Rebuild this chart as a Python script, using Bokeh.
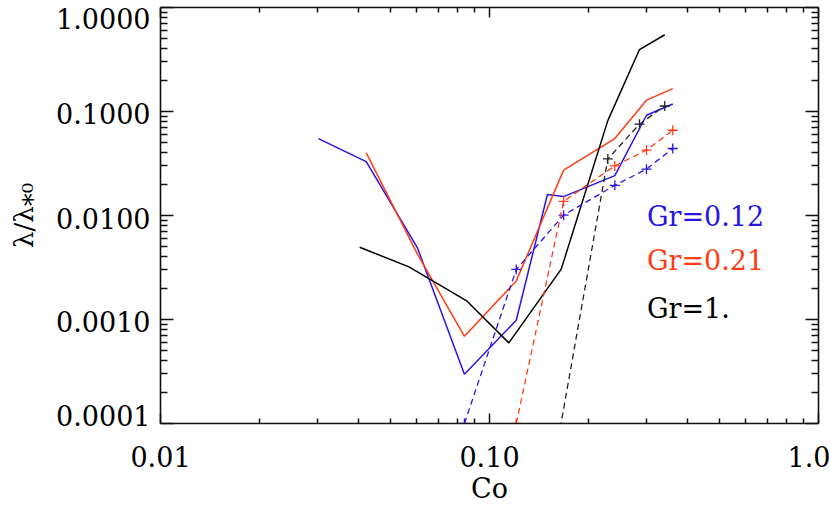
from bokeh.plotting import figure
from bokeh.models import LogAxis, FixedTicker, Label, Range1d, CustomJSTickFormatter
from bokeh.embed import file_html
from bokeh.resources import INLINE

# ---- data ----
co_blue = [0.0302, 0.0422, 0.0604, 0.0839, 0.1206, 0.150, 0.168, 0.2404, 0.300, 0.3606]
lam_blue = [0.0549, 0.0330, 0.00488, 0.000298, 0.000984, 0.0159, 0.0152, 0.0242, 0.0920, 0.118]
co_red = [0.0422, 0.0604, 0.0839, 0.1206, 0.168, 0.2404, 0.300, 0.3606]
lam_red = [0.0400, 0.00425, 0.00069, 0.00235, 0.0273, 0.0549, 0.1285, 0.166]
co_black = [0.0403, 0.0569, 0.0855, 0.1145, 0.1652, 0.2289, 0.2857, 0.3410]
lam_black = [0.00495, 0.00321, 0.0015, 0.000596, 0.00305, 0.0817, 0.394, 0.547]

co_blue_d = [0.0839, 0.1206, 0.168, 0.2404, 0.300, 0.3606]
lam_blue_d = [0.0001, 0.00303, 0.01007, 0.0195, 0.0279, 0.0441]
co_red_d = [0.1206, 0.168, 0.2404, 0.300, 0.3606]
lam_red_d = [0.0001, 0.0137, 0.030, 0.0425, 0.066]
co_black_d = [0.164, 0.2289, 0.2857, 0.3410]
lam_black_d = [0.00009, 0.035, 0.0755, 0.113]

gr_labels = ["Gr=0.12", "Gr=0.21", "Gr=1."]
gr_label_y = [0.0098, 0.0037, 0.00128]
gr_label_x = 0.301

x_ticks = [0.01, 0.1, 1.0]
x_tick_labels = ["0.01", "0.10", "1.0"]
y_ticks = [0.0001, 0.001, 0.01, 0.1, 1.0]
# y tick label texts and where (in data units) each label is centred
y_tick_labels = ["0.0001", "0.0010", "0.0100", "0.1000", "1.0000"]
y_label_pos = [1.20e-4, 9.5e-4, 0.00935, 0.0957, 0.792]

BLUE = "#2814e6"
RED = "#ff3c14"
BLACK = "#000000"
FONT = "DejaVu Serif"
FS = "27px"

def minors(decades):
    out = []
    for d in decades[:-1]:
        out += [k * d for k in range(2, 10)]
    return out

x_minor = minors(sorted(x_ticks))
y_minor = minors(sorted(y_ticks))

p = figure(width=830, height=507, x_axis_type="log", y_axis_type="log",
           x_range=Range1d(0.01, 1.0), y_range=Range1d(1e-4, 1.0),
           output_backend="svg", toolbar_location=None,
           min_border_left=160, min_border_right=12, min_border_top=7, min_border_bottom=84)
p.grid.visible = False
p.outline_line_color = None
p.background_fill_color = "white"
p.border_fill_color = "white"

def style_axis(ax, ticks, minor, tin, minin):
    ax.ticker = FixedTicker(ticks=ticks, minor_ticks=minor)
    ax.major_tick_in = tin
    ax.major_tick_out = 0
    ax.minor_tick_in = minin
    ax.minor_tick_out = 0
    ax.axis_line_width = 1.6
    ax.axis_line_color = "#111111"
    ax.major_tick_line_width = 1.5
    ax.minor_tick_line_width = 1.5
    ax.major_tick_line_color = "#111111"
    ax.minor_tick_line_color = "#111111"

def hide_labels(ax):
    ax.major_label_text_font_size = "1px"
    ax.major_label_text_alpha = 0
    ax.major_label_standoff = 0

# bottom axis
xa = p.xaxis[0]
style_axis(xa, x_ticks, x_minor, 10, 5)
xa.formatter = CustomJSTickFormatter(args=dict(labels=x_tick_labels),
                                     code="return labels[index];")
xa.major_label_text_font = FONT
xa.major_label_text_font_size = FS
xa.major_label_text_color = "black"
xa.major_label_standoff = 22
xa.axis_label = "Co"
xa.axis_label_text_font = FONT
xa.axis_label_text_font_size = FS
xa.axis_label_text_font_style = "normal"
xa.axis_label_text_color = "black"
xa.axis_label_standoff = 3

# left axis: tick marks only (closest to the frame)
ya = p.yaxis[0]
style_axis(ya, y_ticks, y_minor, 13, 7)
hide_labels(ya)

# second left axis: tick labels + title only
yl = LogAxis(ticker=FixedTicker(ticks=y_label_pos, minor_ticks=[]),
             formatter=CustomJSTickFormatter(args=dict(labels=y_tick_labels),
                                             code="return labels[index];"))
yl.axis_line_color = None
yl.major_tick_line_color = None
yl.minor_tick_line_color = None
yl.major_tick_in = 0
yl.major_tick_out = 0
yl.major_label_standoff = 10
yl.major_label_text_font = FONT
yl.major_label_text_font_size = FS
yl.major_label_text_color = "black"
yl.axis_label = "λ/λ⁎₀"
yl.axis_label_text_font = FONT
yl.axis_label_text_font_size = "26px"
yl.axis_label_text_font_style = "normal"
yl.axis_label_text_color = "black"
yl.axis_label_standoff = 14
p.add_layout(yl, "left")

# top & right axes: tick marks only
top = LogAxis()
style_axis(top, x_ticks, x_minor, 10, 5)
hide_labels(top)
p.add_layout(top, "above")
right = LogAxis()
style_axis(right, y_ticks, y_minor, 13, 7)
hide_labels(right)
p.add_layout(right, "right")

# solid lines
LW = 1.5
p.line(co_blue, lam_blue, line_color=BLUE, line_width=LW)
p.line(co_red, lam_red, line_color=RED, line_width=LW)
p.line(co_black, lam_black, line_color=BLACK, line_width=LW)

# dashed lines with + markers
for xs, ys, c in [(co_blue_d, lam_blue_d, BLUE), (co_red_d, lam_red_d, RED),
                  (co_black_d, lam_black_d, "#222222")]:
    p.line(xs, ys, line_color=c, line_width=1.3, line_dash="6 4")
    p.scatter(xs, ys, marker="cross", size=10, line_color=c, line_width=1.3)

# Gr labels
for t, yv, c in zip(gr_labels, gr_label_y, [BLUE, RED, BLACK]):
    p.add_layout(Label(x=gr_label_x, y=yv, text=t, text_align="left", text_baseline="middle",
                       text_font=FONT, text_font_size=FS, text_color=c))

open("out.html", "w").write(file_html(p, INLINE))
